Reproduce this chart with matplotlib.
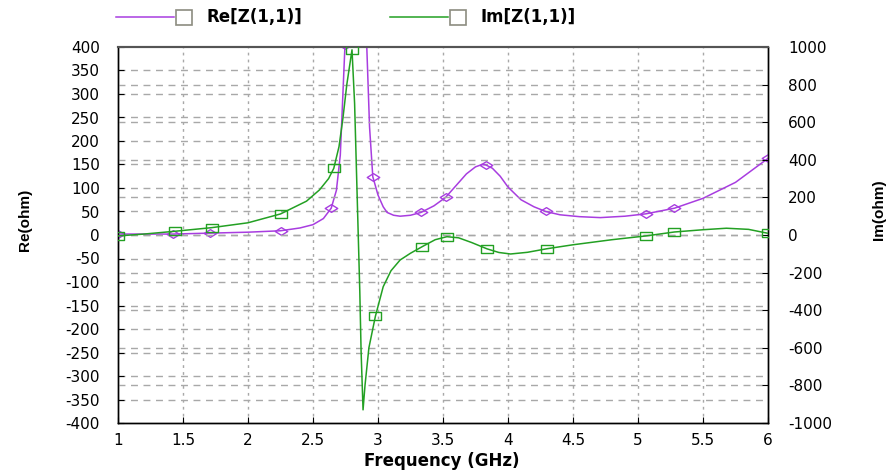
import matplotlib
matplotlib.use("Agg")
import matplotlib.pyplot as plt
from matplotlib.lines import Line2D
from matplotlib.patches import Rectangle
from matplotlib.path import Path

plt.rcParams['font.family'] = ['DejaVu Sans']
plt.rcParams['axes.unicode_minus'] = False

# ---- data ----
re_freq = [1.0, 1.2, 1.42, 1.71, 2.0, 2.25, 2.4, 2.5, 2.58, 2.64, 2.68, 2.71, 2.746,
           2.78, 2.82, 2.86, 2.89, 2.91, 2.935, 2.96, 3.0, 3.04, 3.07, 3.12, 3.17,
           3.25, 3.33, 3.43, 3.52, 3.6, 3.68, 3.75, 3.8, 3.83, 3.88, 3.94, 4.0,
           4.1, 4.2, 4.29, 4.4, 4.55, 4.71, 4.9, 5.06, 5.28, 5.5, 5.75, 6.0]
re_vals = [2, 2, 2, 4, 6, 9, 15, 22, 35, 57, 95, 170, 404,
           800, 1200, 950, 650, 430, 230, 124, 85, 60, 48, 42, 40,
           42, 48, 62, 80, 105, 130, 145, 150, 149, 142, 125, 102,
           75, 60, 50, 43, 39, 37, 40, 45, 57, 78, 112, 163]
re_marker_freq = [1.0, 1.42, 1.71, 2.25, 2.64, 2.746, 2.96, 3.33, 3.52, 3.83, 4.29, 5.06, 5.28, 6.0]

im_freq = [1.0, 1.2, 1.44, 1.72, 2.0, 2.25, 2.45, 2.55, 2.62, 2.66, 2.7, 2.73, 2.76,
           2.8, 2.82, 2.84, 2.86, 2.87, 2.885, 2.9, 2.93, 2.98, 3.04, 3.1, 3.17,
           3.25, 3.34, 3.44, 3.53, 3.62, 3.72, 3.84, 3.93, 4.02, 4.15, 4.3, 4.5,
           4.8, 5.06, 5.28, 5.5, 5.68, 5.85, 6.0]
im_vals = [-5, 5, 20, 39, 65, 112, 180, 240, 300, 355, 470, 620, 800,
           985, 700, 200, -300, -620, -930, -800, -600, -432, -275, -190, -133,
           -97, -62, -25, -9, -15, -40, -74, -93, -101, -92, -73, -52,
           -25, -5, 16, 28, 36, 30, 9]
im_marker_freq = [1.0, 1.44, 1.72, 2.25, 2.66, 2.8, 2.98, 3.34, 3.53, 3.84, 4.3, 5.06, 5.28, 6.0]

x_ticks = [1, 1.5, 2, 2.5, 3, 3.5, 4, 4.5, 5, 5.5, 6]
x_ticklabels = ['1', '1.5', '2', '2.5', '3', '3.5', '4', '4.5', '5', '5.5', '6']
re_ticks = list(range(-400, 401, 50))
im_ticks = list(range(-1000, 1001, 200))

purple = '#A83DE0'
green = '#23A023'
gridc = '#A8A8A8'

W, H = 893, 473
fig = plt.figure(figsize=(W / 100, H / 100), dpi=100)
L, R, T, B = 118, 768, 47, 423
ax = fig.add_axes([L / W, 1 - B / H, (R - L) / W, (B - T) / H])
ax2 = ax.twinx()

diamond = Path([(-1, 0), (0, 0.62), (1, 0), (0, -0.62), (-1, 0)],
               [Path.MOVETO, Path.LINETO, Path.LINETO, Path.LINETO, Path.CLOSEPOLY])
rect = Path([(-1, -0.65), (1, -0.65), (1, 0.65), (-1, 0.65), (-1, -0.65)],
            [Path.MOVETO, Path.LINETO, Path.LINETO, Path.LINETO, Path.CLOSEPOLY])

re_marks = [re_freq.index(f) for f in re_marker_freq]
im_marks = [im_freq.index(f) for f in im_marker_freq]

ax.plot(re_freq, re_vals, color=purple, lw=1.1, marker=diamond, markevery=re_marks,
        markersize=9, markerfacecolor='none', markeredgecolor=purple, markeredgewidth=1.0,
        zorder=3)
ax2.plot(im_freq, im_vals, color=green, lw=1.1, marker=rect, markevery=im_marks,
         markersize=8, markerfacecolor='none', markeredgecolor=green, markeredgewidth=1.0,
         zorder=3)

ax.set_xlim(1, 6)
ax.set_ylim(-400, 400)
ax2.set_ylim(-1000, 1000)
ax.set_xticks(x_ticks)
ax.set_xticklabels(x_ticklabels)
ax.set_yticks(re_ticks)
ax2.set_yticks(im_ticks)

# grids
for xv in x_ticks[1:-1]:
    ax.axvline(xv, color=gridc, lw=1.0, ls=(0, (2, 3)), zorder=1)
for yv in re_ticks[1:-1]:
    ax.axhline(yv, color=gridc, lw=1.0, ls=(0, (5, 4)), zorder=1)
for yv in im_ticks[1:-1]:
    ax2.axhline(yv, color=gridc, lw=1.0, ls=(0, (5, 4)), zorder=1)

ax.tick_params(axis='x', direction='in', length=4, width=0.8, labelsize=11, pad=7)
ax.tick_params(axis='y', direction='in', length=4, width=0.8, labelsize=11, pad=13)
ax2.tick_params(axis='y', direction='in', length=4, width=0.8, labelsize=11, pad=14.5)

for a in (ax, ax2):
    for s in ('left', 'right', 'bottom'):
        a.spines[s].set_color('black')
        a.spines[s].set_linewidth(1.0)
    a.spines['top'].set_color('#555555')
    a.spines['top'].set_linewidth(1.5)

label_family = ['Liberation Sans Narrow', 'Liberation Sans', 'DejaVu Sans']
fig.text(25 / W, 1 - 220 / H, 'Re(ohm)', rotation=90, ha='center', va='center',
         fontsize=11, fontweight='bold', family=label_family)
fig.text(879 / W, 1 - 210 / H, 'Im(ohm)', rotation=90, ha='center', va='center',
         fontsize=11, fontweight='bold', family=label_family)
fig.text(442 / W, 1 - 461 / H, 'Frequency (GHz)', ha='center', va='center',
         fontsize=12, fontweight='bold')

# legend
def legend_item(x0, color, label):
    y = 1 - 17 / H
    fig.add_artist(Line2D([x0 / W, (x0 + 58) / W], [y, y], color=color, lw=1.1,
                          transform=fig.transFigure))
    fig.add_artist(Rectangle(((x0 + 60) / W, 1 - 25 / H), 16 / W, 15 / H,
                             transform=fig.transFigure, facecolor='white',
                             edgecolor='#8C8C80', lw=1.2))
    fig.text((x0 + 90) / W, y, label, ha='left', va='center', fontsize=12,
             fontweight='bold')

legend_item(116, purple, 'Re[Z(1,1)]')
legend_item(390, green, 'Im[Z(1,1)]')

fig.savefig('out.png', dpi=100)
